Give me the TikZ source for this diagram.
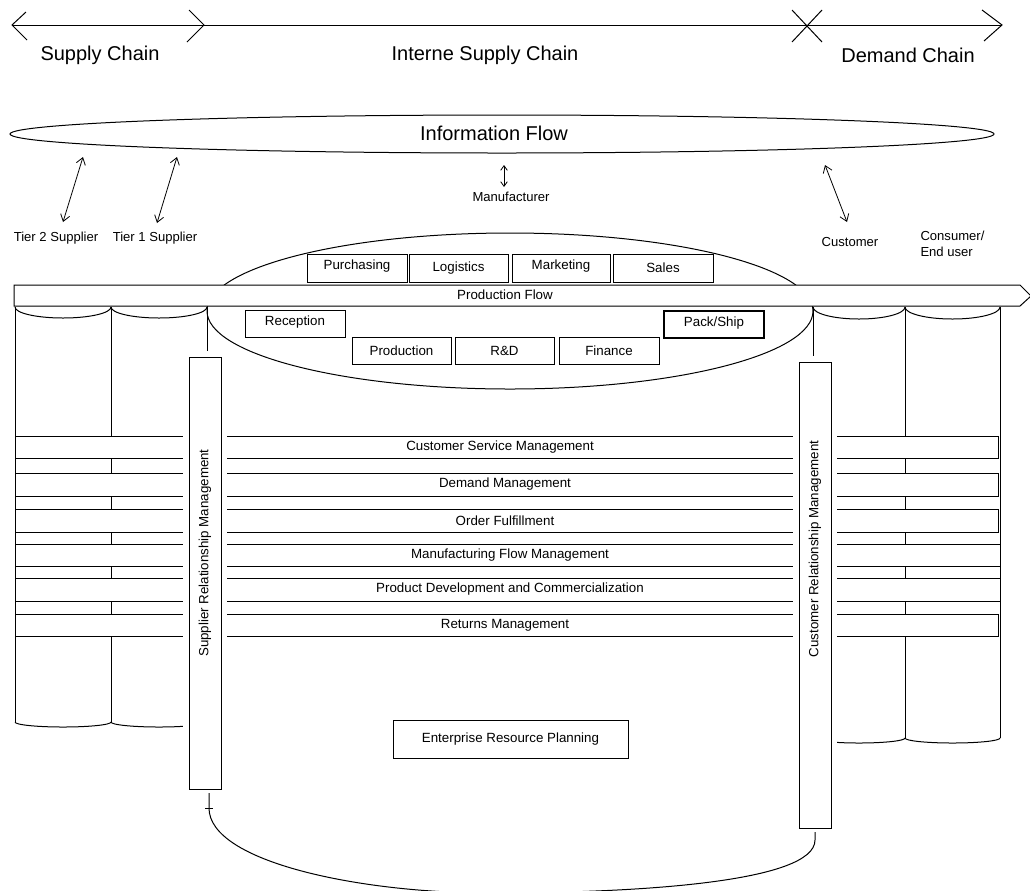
\documentclass[tikz,border=0pt]{standalone}
\usepackage{fontspec}
\setmainfont{Liberation Sans}
\usetikzlibrary{arrows.meta,fit,shapes.geometric}
\begin{document}
\begin{tikzpicture}[x=0.75pt,y=-0.75pt,line width=0.75pt,
  chainlbl/.style={font=\fontsize{15}{18}\selectfont,inner sep=0pt},
  smalllbl/.style={font=\fontsize{9.8}{12}\selectfont,inner sep=0pt},
  txt/.style={font=\fontsize{10}{12}\selectfont,inner sep=0pt},
  procbox/.style={draw,fill=white,inner sep=0pt},
  band/.style={draw,fill=white,inner sep=0pt},
  relbox/.style={draw,fill=white,inner sep=0pt,preaction={draw=white,line width=9pt}},
  vtext/.style={rotate=90,font=\fontsize{10}{12}\selectfont,inner sep=0pt},
  twoway/.style={{Straight Barb[length=5pt,width=7pt]}-{Straight Barb[length=5pt,width=7pt]},line width=0.6pt},
]
\clip (0,0) rectangle (1030,890);

% ---- chain axis with its chevrons ----
\coordinate (axL) at (12,25);
\coordinate (axSC) at (204,25);
\coordinate (axDC) at (807,25);
\coordinate (axR) at (1002,25);
\draw (axL) -- (axR);
\draw (axL) ++(14,-13) -- (axL) -- ++(15,15);
\draw (axSC) ++(-15,-15) -- (axSC) -- ++(-17,17);
\draw (axDC) ++(-15,-15) -- ++(30,32);
\draw (axDC) ++(15,-15) -- ++(-30,32);
\draw (axR) ++(-20,-15) -- (axR) -- ++(-18,16);

\node[chainlbl] (sc) at (100,55) {Supply Chain};
\node[chainlbl] (isc) at (485,55) {Interne Supply Chain};
\node[chainlbl] (dc) at (908,55) {Demand Chain};

% ---- information flow ----
\node[draw,ellipse,inner sep=0pt,minimum width=738pt,minimum height=28.5pt] (info) at (502,134) {};
\node[chainlbl] (infotxt) at (494,133) {Information Flow};

\coordinate (t2top) at (83,157);  \coordinate (t2bot) at (63,222);
\coordinate (t1top) at (177,157); \coordinate (t1bot) at (157,223);
\coordinate (mftop) at (504,165); \coordinate (mfbot) at (504,187);
\coordinate (cutop) at (825,165); \coordinate (cubot) at (847,222);
\draw[twoway] (t2top) -- (t2bot);
\draw[twoway] (t1top) -- (t1bot);
\draw[{Straight Barb[length=3.5pt,width=5pt]}-{Straight Barb[length=3.5pt,width=5pt]},line width=0.6pt] (mftop) -- (mfbot);
\draw[twoway] (cutop) -- (cubot);

\node[smalllbl] (tier2) at (56,238) {Tier 2 Supplier};
\node[smalllbl] (tier1) at (155,238) {Tier 1 Supplier};
\node[smalllbl] (manu) at (511,197) {Manufacturer};
\node[smalllbl] (cust) at (850,242) {Customer};
\node[smalllbl,align=left,anchor=west] (cons) at (920,244) {Consumer/\\End user};

% ---- manufacturer ellipse ----
\draw (510,311) ellipse [x radius=303, y radius=78];

% ---- partner cylinders ----
\draw (15,307) -- (15,722);
\draw (111,307) -- (111,722);
\draw (207,307) -- (207,722);
\draw (15,307) arc[start angle=180,end angle=0,x radius=48,y radius=11];
\draw (111,307) arc[start angle=180,end angle=0,x radius=48,y radius=11];
\draw (15,722) arc[start angle=180,end angle=0,x radius=48,y radius=5];
\draw (111,722) arc[start angle=180,end angle=0,x radius=48,y radius=5];

\draw (813,307) -- (813,738);
\draw (905,307) -- (905,738);
\draw (1000,307) -- (1000,738);
\draw (813,307) arc[start angle=180,end angle=0,x radius=46,y radius=12];
\draw (905,307) arc[start angle=180,end angle=0,x radius=47.5,y radius=12];
\draw (813,738) arc[start angle=180,end angle=0,x radius=46,y radius=5];
\draw (905,738) arc[start angle=180,end angle=0,x radius=47.5,y radius=5];

% ---- production flow ----
\draw[fill=white] (14,285) -- (1020,285) -- (1031,296) -- (1020,306) -- (14,306) -- cycle;
\node[txt] (pflow) at (505,295) {Production Flow};

% ---- functions ----
\node[procbox,fit={(307,254)(407,282)}] (purch) {};
\node[procbox,fit={(409,254)(508,282)}] (logi) {};
\node[procbox,fit={(512,254)(610,282)}] (mark) {};
\node[procbox,fit={(613,254)(713,282)}] (sales) {};
\node[procbox,fit={(245,310)(345,337)}] (recep) {};
\node[procbox,fit={(352,337)(451,364)}] (prod) {};
\node[procbox,fit={(455,337)(554,364)}] (rnd) {};
\node[procbox,fit={(559,337)(659,364)}] (fin) {};
\node[procbox,line width=1.3pt,fit={(664,311)(764,338)}] (pack) {};
\node[txt] (purchtxt) at ([yshift=1.5pt]purch.center) {Purchasing};
\node[txt] (logitxt) at (logi.center) {Logistics};
\node[txt] (marktxt) at ([yshift=1.5pt]mark.center) {Marketing};
\node[txt] (salestxt) at (sales.center) {Sales};
\node[txt] (receptxt) at ([yshift=1pt]recep.center) {Reception};
\node[txt] (prodtxt) at (prod.center) {Production};
\node[txt] (rndtxt) at (rnd.center) {R\&D};
\node[txt] (fintxt) at (fin.center) {Finance};
\node[txt] (packtxt) at ([yshift=1pt]pack.center) {Pack/Ship};

% ---- business processes ----
\node[band,fit={(15,436)(998,458)}] (p1) {};
\node[band,fit={(15,473)(998,496)}] (p2) {};
\node[band,fit={(15,509)(998,532)}] (p3) {};
\node[band,fit={(15,544)(1000,566)}] (p4) {};
\node[band,fit={(15,578)(1000,601)}] (p5) {};
\node[band,fit={(15,614)(998,636)}] (p6) {};
\node[txt] (p1txt) at (500,447) {Customer Service Management};
\node[txt] (p2txt) at (505,484.5) {Demand Management};
\node[txt] (p3txt) at (505,520.5) {Order Fulfillment};
\node[txt] (p4txt) at (510,555) {Manufacturing Flow Management};
\node[txt] (p5txt) at (510,589.5) {Product Development and Commercialization};
\node[txt] (p6txt) at (505,625) {Returns Management};

% ---- relationship management ----
\node[relbox,fit={(189,357)(221,789)}] (srm) {};
\node[vtext] (srmtxt) at (205,553) {Supplier Relationship Management};
\node[relbox,fit={(799,362)(831,828)}] (crm) {};
\node[vtext] (crmtxt) at (815,549) {Customer Relationship Management};

\node[procbox,fit={(393,720)(628,758)}] (erp) {};
\node[txt] (erptxt) at (erp.center) {Enterprise Resource Planning};

% ---- lower shell ----
\coordinate (srmfoot) at (209,793);
\coordinate (crmfoot) at (815,832);
\draw (srmfoot) -- (209,808) .. controls (209,862) and (360,893) .. (490,893)
      .. controls (640,893) and (815,882) .. (815,840) -- (crmfoot);
\draw (205,808) -- (213,808);
\end{tikzpicture}
\end{document}
